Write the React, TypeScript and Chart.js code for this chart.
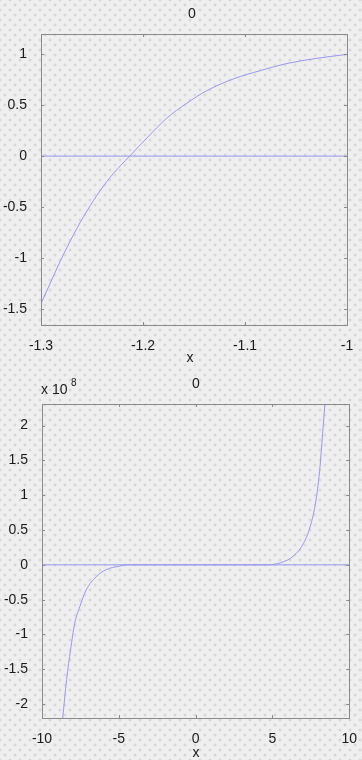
import React, { useEffect, useRef } from "react";
import { Chart, registerables } from "chart.js";

Chart.register(...registerables);

// ---------- data ----------
const topCurveX = [-1.3, -1.291, -1.281, -1.268, -1.255, -1.242, -1.229, -1.213, -1.196, -1.177, -1.157, -1.138, -1.111, -1.085, -1.059, -1.03, -1.0];
const topCurveY = [-1.45, -1.25, -1.03, -0.77, -0.54, -0.34, -0.17, 0.0, 0.18, 0.37, 0.52, 0.64, 0.76, 0.84, 0.91, 0.96, 1.0];
const topZeroX = [-1.3, -1.0];
const topZeroY = [0, 0];
const topXTicks = [-1.3, -1.2, -1.1, -1];
const topYTicks = [-1.5, -1, -0.5, 0, 0.5, 1];

// bottom curve values in units of 1e8
const botCurveX = [-8.65, -8.4, -8.14, -7.87, -7.54, -7.12, -6.47, -5.83, -4.98, -4.45, 4.68, 5.53, 6.39, 7.03, 7.46, 7.84, 8.1, 8.27, 8.42];
const botCurveY = [-2.2, -1.65, -1.22, -0.84, -0.6, -0.36, -0.17, -0.07, -0.02, 0.0, 0.0, 0.03, 0.13, 0.31, 0.55, 0.93, 1.41, 1.89, 2.31];
const botZeroX = [-10, 10];
const botZeroY = [0, 0];
const botXTicks = [-10, -5, 0, 5, 10];
const botYTicks = [-2, -1.5, -1, -0.5, 0, 0.5, 1, 1.5, 2];

const LINE = "rgb(150,150,240)";
const FRAME = "#8a8a8a";
const TEXT = "#1a1a1a";
const FONT = "'Liberation Sans', Arial, sans-serif";
const FS = 14;

const pts = (xs: number[], ys: number[]) => xs.map((x, i) => ({ x, y: ys[i] }));
const fmt = (v: number) => String(Math.round(v * 100) / 100);

type Cfg = {
  curveX: number[]; curveY: number[]; zeroX: number[]; zeroY: number[];
  xMin: number; xMax: number; xStep: number; yMin: number; yMax: number; yStep: number;
  yWidth: number; pad: { left: number; right: number; top: number; bottom: number };
  title: { x: number; y: number }; xlabel: { x: number; y: number }; exponent: boolean;
};

function makeChart(canvas: HTMLCanvasElement, c: Cfg) {
  const framePlugin = {
    id: "frame",
    afterDatasetsDraw(chart: any) {
      const ctx = chart.ctx;
      const a = chart.chartArea;
      const xs = chart.scales.x;
      const ys = chart.scales.y;
      ctx.save();
      ctx.strokeStyle = FRAME;
      ctx.lineWidth = 1;
      ctx.strokeRect(Math.round(a.left) + 0.5, Math.round(a.top) + 0.5, Math.round(a.right - a.left), Math.round(a.bottom - a.top));
      ctx.beginPath();
      const L = 3;
      xs.ticks.forEach((t: any) => {
        const px = Math.round(xs.getPixelForValue(t.value)) + 0.5;
        ctx.moveTo(px, a.bottom); ctx.lineTo(px, a.bottom - L);
        ctx.moveTo(px, a.top); ctx.lineTo(px, a.top + L);
      });
      ys.ticks.forEach((t: any) => {
        const py = Math.round(ys.getPixelForValue(t.value)) + 0.5;
        ctx.moveTo(a.left, py); ctx.lineTo(a.left + L, py);
        ctx.moveTo(a.right, py); ctx.lineTo(a.right - L, py);
      });
      ctx.stroke();
      ctx.fillStyle = TEXT;
      ctx.font = `${FS}px ${FONT}`;
      ctx.textAlign = "center";
      ctx.textBaseline = "middle";
      ctx.fillText("0", c.title.x, c.title.y);
      ctx.fillText("x", c.xlabel.x, c.xlabel.y);
      if (c.exponent) {
        ctx.textAlign = "left";
        ctx.fillText("x 10", 41, 20);
        ctx.font = `10px ${FONT}`;
        ctx.fillText("8", 71, 13);
      }
      ctx.restore();
    },
  };

  return new Chart(canvas, {
    type: "scatter",
    data: {
      datasets: [
        { data: pts(c.zeroX, c.zeroY), showLine: true, borderColor: LINE, borderWidth: 1, pointRadius: 0, tension: 0 },
        { data: pts(c.curveX, c.curveY), showLine: true, borderColor: LINE, borderWidth: 1, pointRadius: 0, cubicInterpolationMode: "monotone" },
      ],
    },
    options: {
      animation: false,
      responsive: false,
      devicePixelRatio: 1,
      layout: { padding: c.pad },
      plugins: { legend: { display: false }, tooltip: { enabled: false }, title: { display: false } },
      scales: {
        x: {
          type: "linear",
          min: c.xMin, max: c.xMax,
          grid: { display: false },
          border: { display: false },
          afterFit: (s: any) => { s.height = 30; },
          ticks: { stepSize: c.xStep, includeBounds: false, padding: 5, color: TEXT, font: { family: FONT, size: FS }, callback: (v: any) => fmt(Number(v)), maxRotation: 0, autoSkip: false },
        },
        y: {
          type: "linear",
          min: c.yMin, max: c.yMax,
          grid: { display: false },
          border: { display: false },
          afterFit: (s: any) => { s.width = c.yWidth; },
          ticks: { stepSize: c.yStep, includeBounds: false, padding: 6, color: TEXT, font: { family: FONT, size: FS }, callback: (v: any) => fmt(Number(v)), autoSkip: false },
        },
      },
    },
    plugins: [framePlugin],
  } as any);
}

export default function App() {
  const topRef = useRef<HTMLCanvasElement>(null);
  const botRef = useRef<HTMLCanvasElement>(null);

  useEffect(() => {
    const a = makeChart(topRef.current!, {
      curveX: topCurveX, curveY: topCurveY, zeroX: topZeroX, zeroY: topZeroY,
      xMin: topXTicks[0], xMax: topXTicks[topXTicks.length - 1], xStep: 0.1,
      yMin: -1.66, yMax: 1.2, yStep: 0.5,
      yWidth: 41, pad: { left: 0, right: 15, top: 34, bottom: 15 },
      title: { x: 192, y: 14 }, xlabel: { x: 190, y: 358 }, exponent: false,
    });
    const b = makeChart(botRef.current!, {
      curveX: botCurveX, curveY: botCurveY, zeroX: botZeroX, zeroY: botZeroY,
      xMin: botXTicks[0], xMax: botXTicks[botXTicks.length - 1], xStep: 5,
      yMin: -2.2, yMax: 2.31, yStep: 0.5,
      yWidth: 42, pad: { left: 0, right: 9, top: 34, bottom: 12 },
      title: { x: 196, y: 14 }, xlabel: { x: 196, y: 383 }, exponent: true,
    });
    return () => { a.destroy(); b.destroy(); };
  }, []);

  const bg: React.CSSProperties = {
    position: "fixed", left: 0, top: 0, width: 362, height: 760,
    backgroundColor: "#efefef",
    backgroundImage: "radial-gradient(circle, #d6d6d6 1.1px, transparent 1.8px), radial-gradient(circle, #d6d6d6 1.1px, transparent 1.8px)",
    backgroundSize: "10px 10px",
    backgroundPosition: "0 0, 5px 5px",
  };

  return (
    <div style={bg}>
      <canvas ref={topRef} width={362} height={370} style={{ position: "absolute", left: 0, top: 0, width: 362, height: 370 }} />
      <canvas ref={botRef} width={362} height={390} style={{ position: "absolute", left: 0, top: 370, width: 362, height: 390 }} />
    </div>
  );
}
